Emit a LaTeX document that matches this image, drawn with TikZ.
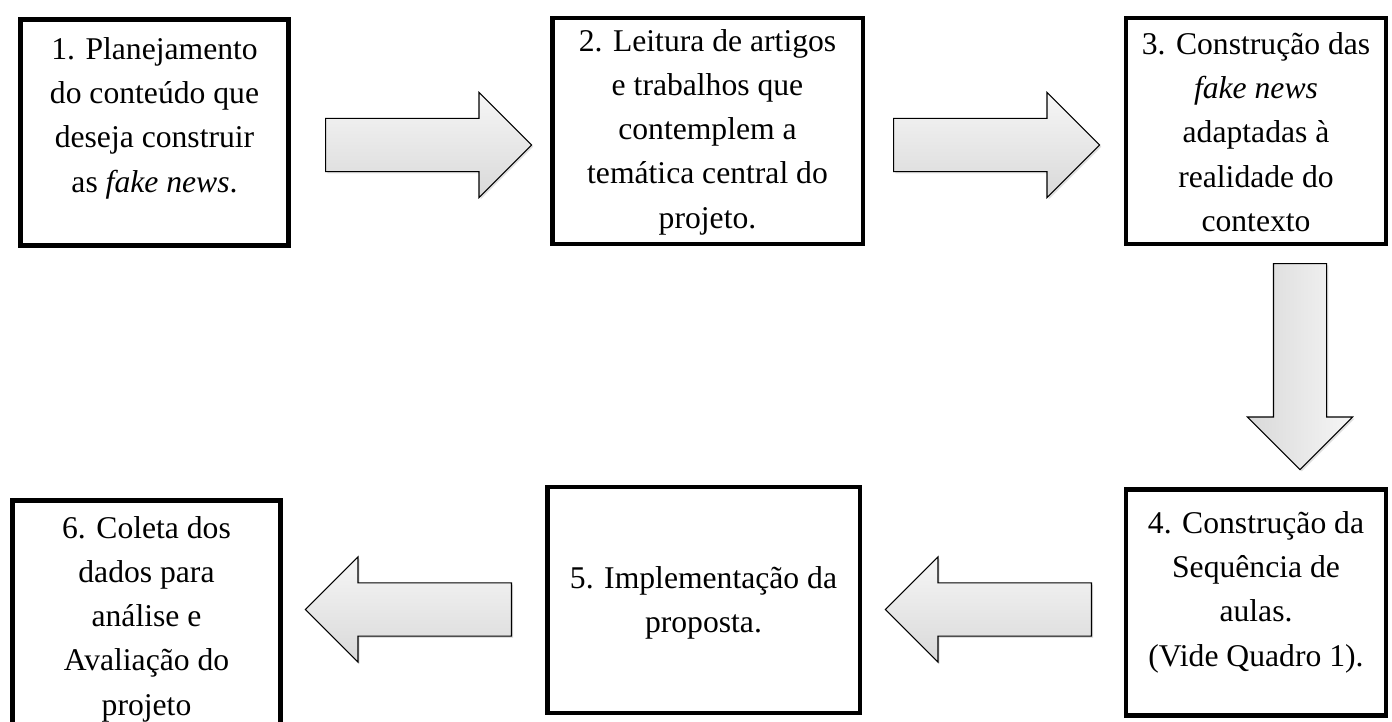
\documentclass[tikz,border=0pt]{standalone}
\usepackage{fontspec}
\setmainfont{Liberation Serif}
\usetikzlibrary{shapes.arrows,shadows}

\begin{document}
\begin{tikzpicture}[x=0.025cm, y=-0.025cm,
    stepbox/.style={rectangle, draw=black, line width=3.2pt, minimum height=5.66cm},
    steptext/.style={align=center, font=\fontsize{22.5}{31.5}\selectfont},
    blockarrow/.style={single arrow, draw=black, line width=0.8pt, minimum height=5.15cm,
        inner sep=0.65cm, single arrow head extend=0.65cm, single arrow head indent=0pt,
        anchor=tail, top color=gray!7, bottom color=gray!30,
        drop shadow={opacity=0.25, shadow xshift=1.2pt, shadow yshift=-1.2pt}}]

    \useasboundingbox (0,0) rectangle (1392,722);

    % 步骤框
    \node [stepbox, minimum width=6.71cm] (s1) at (154.5,132.5) {};
    \node [stepbox, minimum width=7.76cm] (s2) at (707.5,131) {};
    \node [stepbox, minimum width=6.49cm] (s3) at (1256,131) {};
    \node [stepbox, minimum width=6.49cm] (s4) at (1256,602.5) {};
    \node [stepbox, minimum width=7.81cm] (s5) at (703.5,600) {};
    \node [stepbox, minimum width=6.71cm] (s6) at (146.5,613.5) {};

    % 文字
    \node [steptext] (t1) at (154.5,118) {1. Planejamento\\do conteúdo que\\deseja construir\\as \textit{fake news}.};
    \node [steptext] (t2) at (707.5,132) {2. Leitura de artigos\\e trabalhos que\\contemplem a\\temática central do\\projeto.};
    \node [steptext] (t3) at (1256,132) {3. Construção das\\\textit{fake news}\\adaptadas à\\realidade do\\contexto};
    \node [steptext] (t4) at (1256,592) {4. Construção da\\Sequência de\\aulas.\\(Vide Quadro 1).};
    \node [steptext] (t5) at (703.5,603) {5. Implementação da\\proposta.};
    \node [steptext] (t6) at (146.5,619) {6. Coleta dos\\dados para\\análise e\\Avaliação do\\projeto};

    % 箭头
    \node [blockarrow] (a12) at (325,145) {};
    \node [blockarrow] (a23) at (893,145) {};
    \node [blockarrow, shape border rotate=270, left color=gray!30, right color=gray!7] (a34) at (1300,263) {};
    \node [blockarrow, shape border rotate=180] (a45) at (1092,609.5) {};
    \node [blockarrow, shape border rotate=180] (a56) at (512,609.5) {};
\end{tikzpicture}
\end{document}
